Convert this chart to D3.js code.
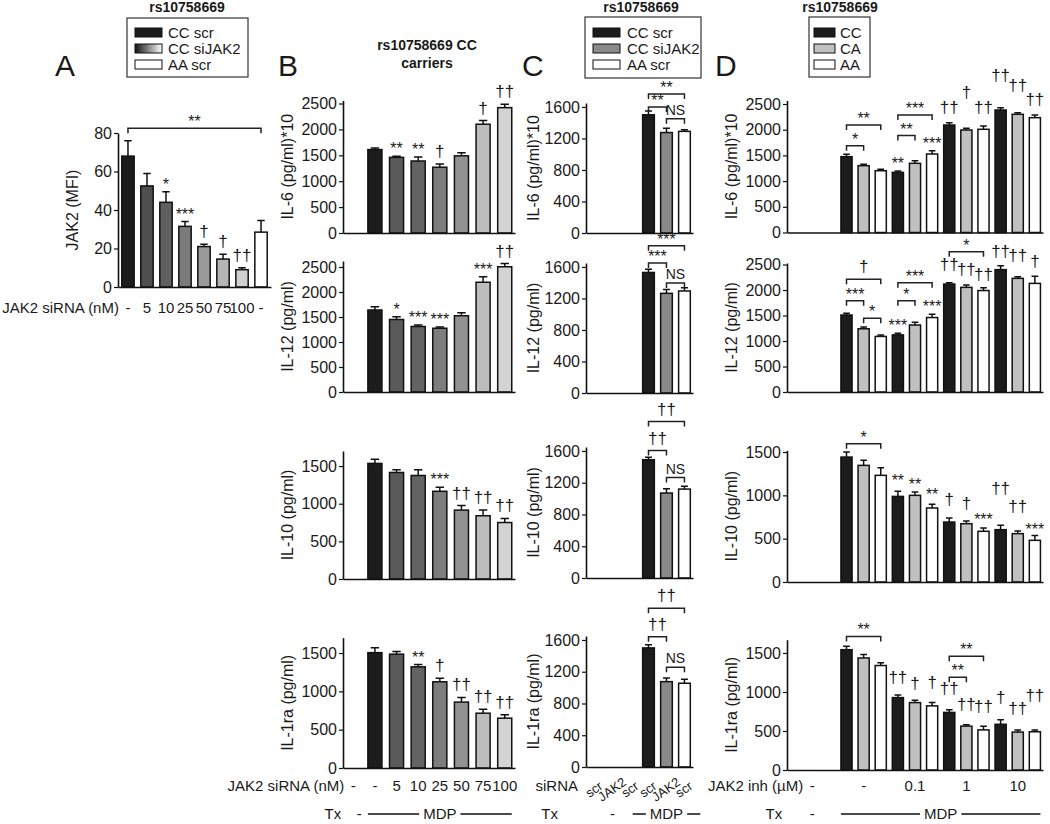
<!DOCTYPE html>
<html>
<head>
<meta charset="utf-8">
<script src="https://d3js.org/d3.v7.min.js"></script>
<style>
  body { margin: 0; background: #fff; }
  svg text { fill: #1a1a1a; }
</style>
</head>
<body>
<script>
// ---- values ----

// A: JAK2 MFI after siRNA
const aDose = ['-', '5', '10', '25', '50', '75', '100', '-'];
const aJak2 = [68, 52.5, 44, 31.5, 21, 14.5, 9, 28.5];
const aJak2Err = [8, 6.5, 5.5, 2.5, 1.2, 2.5, 1, 6];
const aShades = ['#1c1c1c', '#4f4f4f', '#5f5f5f', '#7a7a7a', '#9a9a9a', '#b5b5b5', '#d0d0d0', '#ffffff'];
const aMarks = [[2, '*'], [3, '***'], [4, '†'], [5, '†'], [6, '††']];
const aBrackets = [[0, 7, 82.5, '**']];

// B: rs10758669 CC carriers, siRNA dose
const bDose = ['-', '-', '5', '10', '25', '50', '75', '100'];
const bShades = [null, '#1c1c1c', '#5a5a5a', '#636363', '#7d7d7d', '#929292', '#bdbdbd', '#d3d3d3'];
const bIL6 = [null, 1610, 1460, 1390, 1270, 1490, 2100, 2420];
const bIL6Err = [0, 30, 20, 75, 60, 60, 70, 65];
const bIL12 = [null, 1640, 1450, 1310, 1275, 1525, 2195, 2505];
const bIL12Err = [0, 65, 55, 30, 25, 60, 110, 65];
const bIL10 = [null, 1535, 1415, 1375, 1165, 915, 840, 750];
const bIL10Err = [0, 55, 35, 75, 55, 60, 75, 55];
const bIL1ra = [null, 1505, 1485, 1320, 1125, 860, 715, 650];
const bIL1raErr = [0, 65, 35, 30, 45, 60, 50, 45];
const bIL6Marks = [[2, '**'], [3, '**'], [4, '†'], [6, '†'], [7, '††']];
const bIL12Marks = [[2, '*'], [3, '***'], [4, '***'], [6, '***'], [7, '††']];
const bIL10Marks = [[4, '***'], [5, '††'], [6, '††'], [7, '††']];
const bIL1raMarks = [[3, '**'], [4, '†'], [5, '††'], [6, '††'], [7, '††']];

// C: CC scr / CC siJAK2 / AA scr
const cSiRNA = ['scr', 'JAK2', 'scr', 'scr', 'JAK2', 'scr'];
const cShades = [null, null, null, '#1c1c1c', '#8a8a8a', '#ffffff'];
const cIL6 = [null, null, null, 1500, 1275, 1290];
const cIL6Err = [0, 0, 0, 50, 55, 20];
const cIL12 = [null, null, null, 1530, 1265, 1295];
const cIL12Err = [0, 0, 0, 40, 50, 40];
const cIL10 = [null, null, null, 1490, 1070, 1120];
const cIL10Err = [0, 0, 0, 30, 55, 35];
const cIL1ra = [null, null, null, 1500, 1075, 1055];
const cIL1raErr = [0, 0, 0, 40, 45, 50];
const cIL6Brackets = [[3, 5, 1765, '**'], [3, 4, 1600, '**'], [4, 5, 1450, 'NS']];
const cIL12Brackets = [[3, 5, 1870, '***'], [3, 4, 1650, '***'], [4, 5, 1395, 'NS']];
const cIL10Brackets = [[3, 5, 1970, '††'], [3, 4, 1605, '††'], [4, 5, 1265, 'NS']];
const cIL1raBrackets = [[3, 5, 2000, '††'], [3, 4, 1640, '††'], [4, 5, 1255, 'NS']];

// D: CC / CA / AA with JAK2 inhibitor
const dGeno = ['CC', 'CA', 'AA'];
const dGenoShades = ['#1c1c1c', '#c0c0c0', '#ffffff'];
const dDose = ['-', '-', '0.1', '1', '10'];
const dIL6 = [1475, 1300, 1202, 1171, 1346, 1527, 2091, 1994, 2008, 2383, 2300, 2234];
const dIL6Err = [46, 27, 28, 26, 51, 65, 45, 33, 64, 45, 31, 52];
const dIL12 = [1510, 1240, 1090, 1120, 1314, 1460, 2117, 2052, 1990, 2400, 2229, 2130];
const dIL12Err = [33, 35, 30, 30, 52, 66, 26, 46, 55, 75, 32, 140];
const dIL10 = [1442, 1346, 1231, 988, 1000, 854, 692, 673, 585, 604, 558, 481];
const dIL10Err = [58, 58, 88, 58, 38, 42, 46, 31, 38, 50, 30, 57];
const dIL1ra = [1542, 1436, 1339, 928, 864, 822, 738, 562, 514, 586, 486, 490];
const dIL1raErr = [43, 43, 34, 34, 30, 42, 33, 19, 48, 57, 28, 24];
const dIL6Brackets = [[3, 4, 1690, '*'], [3, 5, 2090, '**'], [6, 7, 1885, '**'], [6, 8, 2285, '***']];
const dIL6Marks = [[6, '**'], [8, '***'], [9, '††', 2325], [10, '†', 2617], [11, '††', 2325],
                   [12, '††', 2947], [13, '††', 2753], [14, '††', 2480]];
const dIL12Brackets = [[3, 4, 1790, '***'], [3, 5, 2210, '†'], [4, 5, 1445, '*'],
                       [6, 7, 1790, '*'], [6, 8, 2143, '***'], [9, 11, 2750, '*']];
const dIL12Marks = [[6, '***'], [8, '***'], [9, '††', 2392], [10, '††', 2294], [11, '††', 2196],
                    [12, '††', 2653], [13, '††', 2569], [14, '†', 2457]];
const dIL10Brackets = [[3, 5, 1596, '*']];
const dIL10Marks = [[6, '**', 1103], [7, '**', 1065], [8, '**', 949], [9, '†', 884], [10, '†', 846],
                    [11, '***', 661], [12, '††', 1019], [13, '††', 807], [14, '***', 545]];
const dIL1raBrackets = [[3, 5, 1712, '**'], [9, 11, 1458, '**'], [9, 10, 1190, '**']];
const dIL1raMarks = [[6, '††', 1118], [7, '†', 1034], [8, '†', 1055], [9, '††', 970], [10, '††', 771],
                     [11, '††', 737], [12, '†', 864], [13, '††', 716], [14, '††', 885]];

const ticks2500 = [0, 500, 1000, 1500, 2000, 2500];
const ticks1500 = [0, 500, 1000, 1500];
const ticks1600 = [0, 400, 800, 1200, 1600];

// D series get three empty "no Tx" slots in front
const pad3 = arr => [null, null, null].concat(arr);
const dShades = d3.range(15).map(i => i < 3 ? null : dGenoShades[i % 3]);

// ---- drawing ----
let svg = d3.select('body')
    .append('svg')
    .attr('width', 1050)
    .attr('height', 824)
    .style('font-family', '"Liberation Sans", Arial, sans-serif');

let grad = svg.append('defs').append('linearGradient').attr('id', 'siGrad');
grad.append('stop').attr('offset', '0%').attr('stop-color', '#111');
grad.append('stop').attr('offset', '100%').attr('stop-color', '#fff');

// one bar chart with upward error bars
function barPlot(o) {
    let g = svg.append('g');
    let x = d3.scaleBand()
        .domain(d3.range(o.n))
        .range([o.left, o.right])
        .paddingInner(0.35)
        .paddingOuter(o.outer || 0.15);
    let y = d3.scaleLinear()
        .domain([0, o.max])
        .range([o.base, o.top]);
    let cx = i => x(i) + x.bandwidth() / 2;

    let rows = o.values.map((v, i) => ({ i: i, v: v, e: o.errs[i], c: o.colors[i] }))
        .filter(d => d.v != null);

    g.selectAll('path.err')
        .data(rows)
        .join('path')
        .attr('class', 'err')
        .attr('d', d => {
            let yt = y(d.v + d.e), w = x.bandwidth() * 0.3;
            return `M${cx(d.i)},${y(d.v)}V${yt}M${cx(d.i) - w},${yt}H${cx(d.i) + w}`;
        })
        .attr('fill', 'none')
        .attr('stroke', '#111')
        .attr('stroke-width', 1.5);

    g.selectAll('rect')
        .data(rows)
        .join('rect')
        .attr('x', d => x(d.i))
        .attr('width', x.bandwidth())
        .attr('y', d => y(d.v))
        .attr('height', d => y(0) - y(d.v))
        .attr('fill', d => d.c)
        .attr('stroke', '#111')
        .attr('stroke-width', 1.5);

    // y axis
    let ya = g.append('g')
        .attr('transform', `translate(${o.left},0)`)
        .call(d3.axisLeft(y).tickValues(o.ticks).tickFormat(d3.format('d'))
            .tickSize(4).tickSizeOuter(0).tickPadding(2));
    ya.select('.domain').attr('stroke', '#111').attr('stroke-width', 1.6);
    ya.selectAll('.tick line').attr('stroke', '#111').attr('stroke-width', 1.2);
    ya.selectAll('.tick text')
        .style('font-size', '16px')
        .style('font-family', '"Liberation Sans", Arial, sans-serif')
        .attr('fill', '#1a1a1a');

    // x axis: plain line
    let xa = g.append('g')
        .attr('transform', `translate(0,${o.base})`)
        .call(d3.axisBottom(x).tickSize(0).tickSizeOuter(0).tickFormat(''));
    xa.select('.domain').attr('stroke', '#111').attr('stroke-width', 1.6);

    // y label
    g.append('text')
        .attr('transform', `translate(${o.labelX},${(o.base + o.top) / 2}) rotate(-90)`)
        .attr('text-anchor', 'middle')
        .attr('dy', '0.35em')
        .style('font-size', '16px')
        .text(o.label);

    let p = { g: g, x: x, y: y, cx: cx, values: o.values, errs: o.errs };

    // significance symbols above single bars
    (o.marks || []).forEach(m => {
        let slot = m[0], t = m[1];
        let dagger = t.indexOf('†') >= 0;
        let yb = m[2] != null ? y(m[2]) : y(o.values[slot] + o.errs[slot]) - (dagger ? 7 : 2);
        g.append('text')
            .attr('x', cx(slot))
            .attr('y', yb)
            .attr('text-anchor', 'middle')
            .style('font-size', dagger ? '17px' : '16px')
            .attr('fill', dagger ? '#3b3b4b' : '#333')
            .text(t);
    });

    // comparison brackets
    (o.brackets || []).forEach(b => {
        let x1 = cx(b[0]), x2 = cx(b[1]), yb = y(b[2]), t = b[3];
        g.append('path')
            .attr('d', `M${x1},${yb + 5}V${yb}H${x2}V${yb + 5}`)
            .attr('fill', 'none')
            .attr('stroke', '#222')
            .attr('stroke-width', 1.5);
        let dagger = t.indexOf('†') >= 0;
        g.append('text')
            .attr('x', (x1 + x2) / 2)
            .attr('y', yb - (dagger ? 7 : (t === 'NS' ? 4 : 1)))
            .attr('text-anchor', 'middle')
            .style('font-size', t === 'NS' ? '14px' : (dagger ? '17px' : '16px'))
            .attr('fill', dagger ? '#3b3b4b' : '#333')
            .text(t);
    });

    return p;
}

function legend(bx, by, bw, bh, swX, swW, txtX, items) {
    svg.append('rect')
        .attr('x', bx).attr('y', by).attr('width', bw).attr('height', bh)
        .attr('fill', '#fff').attr('stroke', '#333').attr('stroke-width', 1.2);
    items.forEach((it, i) => {
        let yb = 38 + i * 16;
        svg.append('rect')
            .attr('x', swX).attr('y', yb - 10).attr('width', swW).attr('height', 9)
            .attr('fill', it[1]).attr('stroke', '#111').attr('stroke-width', 1);
        svg.append('text')
            .attr('x', txtX).attr('y', yb)
            .style('font-size', '15px')
            .text(it[0]);
    });
}

function title(x, y, t) {
    svg.append('text')
        .attr('x', x).attr('y', y)
        .attr('text-anchor', 'middle')
        .style('font-size', '14px')
        .style('font-weight', 'bold')
        .text(t);
}

function letter(x, t) {
    svg.append('text')
        .attr('x', x).attr('y', 76)
        .style('font-size', '30px')
        .text(t);
}

function rowText(x, y, t, anchor) {
    return svg.append('text')
        .attr('x', x).attr('y', y)
        .attr('text-anchor', anchor || 'middle')
        .style('font-size', '15px')
        .text(t);
}

function mdpRow(p, from, to, extra) {
    let yb = 819;
    let x1 = p.x(from) - extra, x2 = p.x(to) + p.x.bandwidth() + extra;
    let mid = (x1 + x2) / 2;
    let t = rowText(mid, yb, 'MDP');
    let w = t.node().getComputedTextLength();
    svg.append('path')
        .attr('d', `M${x1},${yb - 5}H${mid - w / 2 - 4}M${mid + w / 2 + 4},${yb - 5}H${x2}`)
        .attr('stroke', '#111')
        .attr('stroke-width', 1.3);
}

// ---- panel A ----
letter(55, 'A');
title(187, 12, 'rs10758669');
legend(127, 18, 121, 59, 135, 27, 168,
    [['CC scr', '#1c1c1c'], ['CC siJAK2', 'url(#siGrad)'], ['AA scr', '#fff']]);

let pA = barPlot({ n: 8, left: 118, right: 271, outer: 0.2, base: 287, top: 133, max: 80,
    values: aJak2, errs: aJak2Err, colors: aShades, ticks: [0, 20, 40, 60, 80],
    label: 'JAK2 (MFI)', labelX: 72, marks: aMarks, brackets: aBrackets });
aDose.forEach((t, i) => rowText(pA.cx(i), 313, t));
rowText(pA.cx(0) - 9, 313, 'JAK2 siRNA (nM)', 'end');

// ---- panel B ----
letter(278, 'B');
title(427, 50, 'rs10758669 CC');
title(427, 68, 'carriers');
let bCommon = { n: 8, left: 343, right: 515, colors: bShades, labelX: 287 };
barPlot(Object.assign({ base: 233, top: 100.4, max: 2560, values: bIL6, errs: bIL6Err,
    ticks: ticks2500, label: 'IL-6 (pg/ml)*10', marks: bIL6Marks }, bCommon));
barPlot(Object.assign({ base: 392, top: 261, max: 2620, values: bIL12, errs: bIL12Err,
    ticks: ticks2500, label: 'IL-12 (pg/ml)', marks: bIL12Marks }, bCommon));
barPlot(Object.assign({ base: 579, top: 451, max: 1700, values: bIL10, errs: bIL10Err,
    ticks: ticks1500, label: 'IL-10 (pg/ml)', marks: bIL10Marks }, bCommon));
let pB = barPlot(Object.assign({ base: 768, top: 637.7, max: 1700, values: bIL1ra, errs: bIL1raErr,
    ticks: ticks1500, label: 'IL-1ra (pg/ml)', marks: bIL1raMarks }, bCommon));
bDose.forEach((t, i) => rowText(pB.cx(i), 791, t));
rowText(pB.cx(0) - 9, 791, 'JAK2 siRNA (nM)', 'end');
rowText(pB.cx(0) - 12, 819, 'Tx', 'end');
rowText(pB.cx(0) + 6, 819, '-');
mdpRow(pB, 1, 7, 0);

// ---- panel C ----
letter(522, 'C');
title(641, 12, 'rs10758669');
legend(585, 17, 116, 61, 593, 27, 627,
    [['CC scr', '#1c1c1c'], ['CC siJAK2', '#8a8a8a'], ['AA scr', '#fff']]);
let cCommon = { n: 6, left: 586, right: 693, colors: cShades, labelX: 533 };
barPlot(Object.assign({ base: 233, top: 103, max: 1650, values: cIL6, errs: cIL6Err,
    ticks: ticks1600, label: 'IL-6 (pg/ml)*10', brackets: cIL6Brackets }, cCommon));
barPlot(Object.assign({ base: 393, top: 263, max: 1650, values: cIL12, errs: cIL12Err,
    ticks: ticks1600, label: 'IL-12 (pg/ml)', brackets: cIL12Brackets }, cCommon));
barPlot(Object.assign({ base: 578, top: 447, max: 1650, values: cIL10, errs: cIL10Err,
    ticks: ticks1600, label: 'IL-10 (pg/ml)', brackets: cIL10Brackets }, cCommon));
let pC = barPlot(Object.assign({ base: 767, top: 636, max: 1650, values: cIL1ra, errs: cIL1raErr,
    ticks: ticks1600, label: 'IL-1ra (pg/ml)', brackets: cIL1raBrackets }, cCommon));
cSiRNA.forEach((t, i) => {
    svg.append('text')
        .attr('transform', `translate(${pC.cx(i) + 2},${793}) rotate(-35)`)
        .attr('text-anchor', 'middle')
        .style('font-size', '13px')
        .text(t);
});
rowText(578, 791, 'siRNA', 'end');
rowText(558, 819, 'Tx', 'end');
rowText(pC.cx(1), 819, '-');
mdpRow(pC, 3, 5, 10);

// ---- panel D ----
letter(715, 'D');
title(840, 12, 'rs10758669');
legend(809, 17, 61, 60, 814, 21, 840,
    dGeno.map((g, i) => [g, dGenoShades[i]]));
let dCommon = { n: 15, left: 787, right: 1043, colors: dShades, labelX: 731 };
barPlot(Object.assign({ base: 232.5, top: 100.4, max: 2570, values: pad3(dIL6), errs: pad3(dIL6Err),
    ticks: ticks2500, label: 'IL-6 (pg/ml)*10', marks: dIL6Marks, brackets: dIL6Brackets }, dCommon));
barPlot(Object.assign({ base: 392, top: 263, max: 2530, values: pad3(dIL12), errs: pad3(dIL12Err),
    ticks: ticks2500, label: 'IL-12 (pg/ml)', marks: dIL12Marks, brackets: dIL12Brackets }, dCommon));
barPlot(Object.assign({ base: 582, top: 450.3, max: 1520, values: pad3(dIL10), errs: pad3(dIL10Err),
    ticks: ticks1500, label: 'IL-10 (pg/ml)', marks: dIL10Marks, brackets: dIL10Brackets }, dCommon));
let pD = barPlot(Object.assign({ base: 770, top: 639.7, max: 1670, values: pad3(dIL1ra), errs: pad3(dIL1raErr),
    ticks: ticks1500, label: 'IL-1ra (pg/ml)', marks: dIL1raMarks, brackets: dIL1raBrackets }, dCommon));
dDose.forEach((t, i) => rowText(pD.cx(i * 3 + 1), 791, t));
rowText(pD.cx(1) - 9, 791, 'JAK2 inh (\u00b5M)', 'end');
rowText(pD.cx(1) - 30, 819, 'Tx', 'end');
rowText(pD.cx(1), 819, '-');
mdpRow(pD, 3, 14, 0);
</script>
</body>
</html>
